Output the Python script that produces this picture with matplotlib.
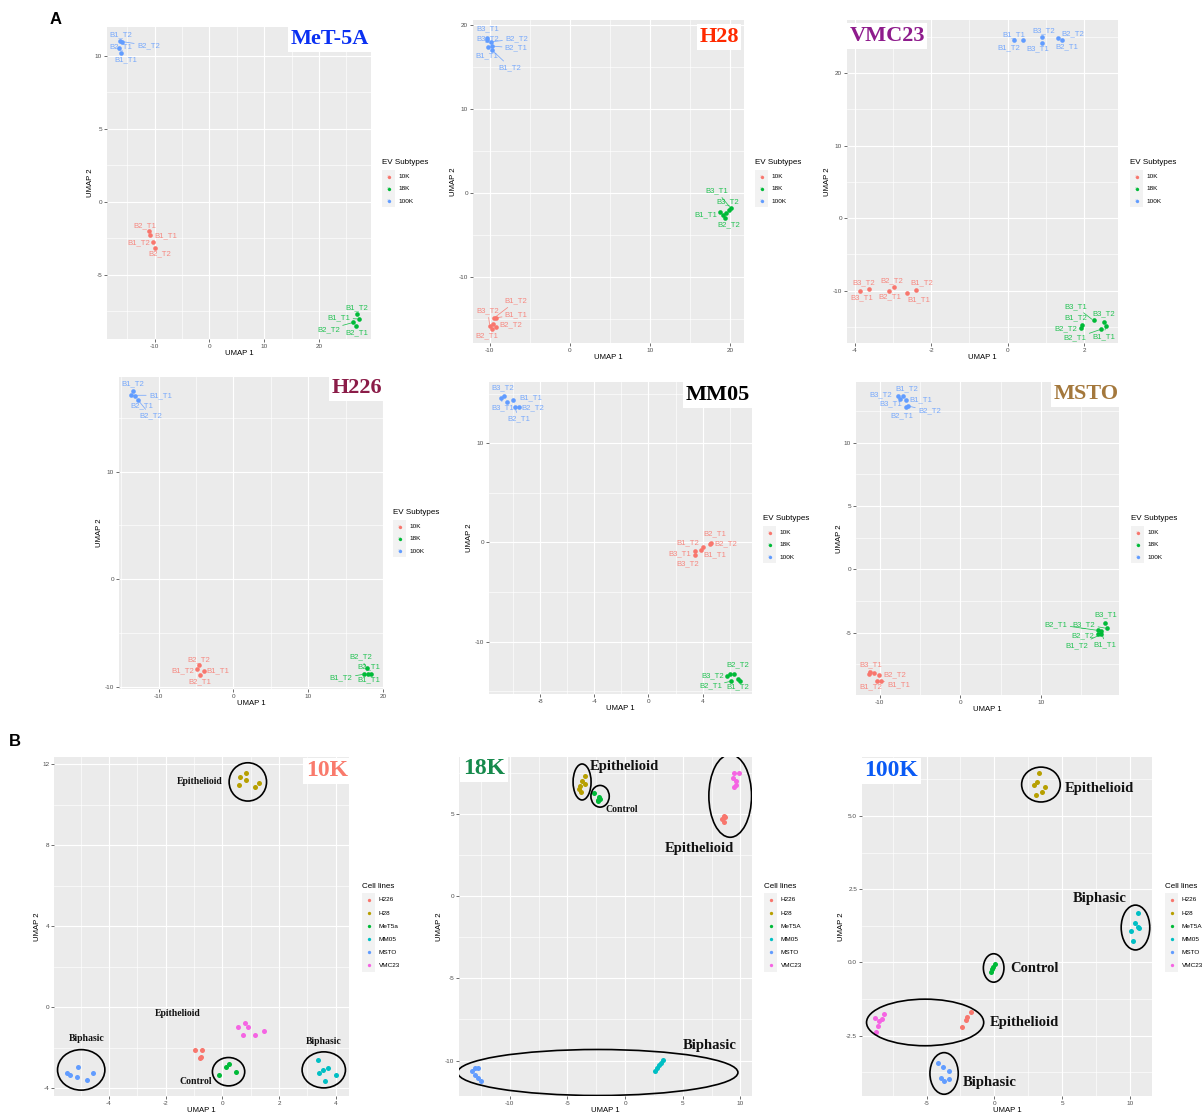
import matplotlib
matplotlib.use('Agg')
import matplotlib.pyplot as plt
from matplotlib.patches import Ellipse, Rectangle
from matplotlib.lines import Line2D
from matplotlib.ticker import MultipleLocator, FormatStrFormatter

plt.rcParams['font.family'] = ['Liberation Sans', 'DejaVu Sans']
plt.rcParams['axes.unicode_minus'] = False

W, H = 1203, 1115

# ---------------- A : EV subtypes within each cell line ----------------
SUBTYPES = ['10K', '18K', '100K']
SUB_COLORS = ['#F8766D', '#00BA38', '#619CFF']

MET_X = [-16.4, -15.9, -16.6, -16.2, -11.1, -10.8, -10.3, -9.9, 26.9, 27.3, 26.3, 26.7]
MET_Y = [11.0, 10.96, 10.5, 10.2, -2.03, -2.26, -2.76, -3.15, -7.67, -8.03, -8.26, -8.49]
MET_SUB = ['100K'] * 4 + ['10K'] * 4 + ['18K'] * 4
MET_LAB = ['B1_T2', 'B2_T2', 'B2_T1', 'B1_T1', 'B2_T1', 'B1_T1', 'B1_T2', 'B2_T2',
           'B1_T2', 'B1_T1', 'B2_T2', 'B2_T1']

H28_X = [-10.4, -10.3, -9.9, -9.7, -10.2, -9.7, -10.0, -9.7, -9.25, -9.2, -9.5, -9.6,
         18.7, 19.1, 19.5, 19.4, 19.9, 20.1]
H28_Y = [18.5, 18.2, 18.0, 17.5, 17.4, 17.0, -15.8, -16.15, -15.9, -14.8, -14.85, -15.5,
         -2.26, -2.58, -2.38, -2.97, -1.98, -1.78]
H28_SUB = ['100K'] * 6 + ['10K'] * 6 + ['18K'] * 6
H28_LAB = ['B3_T1', 'B3_T2', 'B2_T2', 'B2_T1', 'B1_T1', 'B1_T2',
           'B3_T2', 'B2_T1', 'B2_T2', 'B1_T1', 'B1_T2', '',
           'B1_T1', '', '', 'B2_T2', 'B3_T2', 'B3_T1']

VMC_X = [0.17, 0.39, 0.89, 0.89, 1.30, 1.41, -3.87, -3.62, -3.10, -2.97, -2.63, -2.40,
         1.95, 1.91, 2.24, 2.52, 2.56, 2.44]
VMC_Y = [24.5, 24.5, 24.9, 24.2, 24.8, 24.5, -10.06, -9.7, -10.06, -9.5, -10.25, -9.88,
         -14.7, -15.2, -14.1, -14.3, -14.9, -15.3]
VMC_SUB = ['100K'] * 6 + ['10K'] * 6 + ['18K'] * 6
VMC_LAB = ['B1_T2', 'B1_T1', 'B3_T2', 'B3_T1', 'B2_T2', 'B2_T1',
           'B3_T1', 'B3_T2', 'B2_T1', 'B2_T2', 'B1_T1', 'B1_T2',
           'B1_T2', 'B2_T2', 'B3_T1', 'B3_T2', 'B1_T1', 'B2_T1']

H226_X = [-13.4, -13.65, -13.2, -12.8, -4.6, -4.9, -4.0, -4.5, 17.8, 18.0, 17.5, 18.4]
H226_Y = [17.5, 17.1, 17.0, 16.7, -7.98, -8.32, -8.57, -8.88, -8.26, -8.82, -8.82, -8.82]
H226_SUB = ['100K'] * 4 + ['10K'] * 4 + ['18K'] * 4
H226_LAB = ['B1_T2', 'B1_T1', 'B2_T1', 'B2_T2', 'B2_T2', 'B1_T2', 'B1_T1', 'B2_T1',
            'B2_T2', 'B2_T1', 'B1_T2', 'B1_T1']

MM05_X = [-10.9, -10.7, -10.5, -10.0, -9.9, -9.6, 3.41, 3.41, 3.88, 4.0, 4.52, 4.64,
          5.81, 6.05, 6.35, 6.13, 6.6, 6.74]
MM05_Y = [14.6, 14.8, 14.2, 14.4, 13.7, 13.7, -0.85, -1.28, -0.78, -0.5, -0.17, -0.07,
          -13.5, -13.3, -13.3, -14.0, -13.8, -14.0]
MM05_SUB = ['100K'] * 6 + ['10K'] * 6 + ['18K'] * 6
MM05_LAB = ['B3_T1', 'B3_T2', '', 'B1_T1', 'B2_T1', 'B2_T2',
            'B3_T1', 'B3_T2', 'B1_T1', 'B1_T2', 'B2_T2', 'B2_T1',
            'B3_T2', '', 'B2_T2', 'B2_T1', '', 'B1_T2']

MSTO_X = [-7.8, -7.5, -7.1, -6.75, -6.8, -6.45, -11.4, -11.2, -10.7, -10.1, -10.4, -9.9,
          18.0, 18.2, 17.1, 17.5, 17.1, 17.5]
MSTO_Y = [13.7, 13.44, 13.68, 13.36, 12.8, 12.9, -8.29, -8.08, -8.21, -8.32, -8.8, -8.8,
          -4.26, -4.66, -4.82, -4.87, -5.13, -5.13]
MSTO_SUB = ['100K'] * 6 + ['10K'] * 6 + ['18K'] * 6
MSTO_LAB = ['B3_T2', 'B3_T1', 'B1_T2', 'B1_T1', 'B2_T1', 'B2_T2',
            'B3_T1', '', '', 'B2_T2', 'B1_T2', 'B1_T1',
            'B3_T1', 'B3_T2', 'B2_T1', 'B1_T1', 'B2_T2', 'B1_T2']

# label offsets (pixels) imitating ggrepel placement
MET_OFF = [(1, 6), (26, -4), (2, 2), (5, -7), (-4, 6), (16, -1), (-14, -1), (5, -6),
           (0, 6), (-20, 1), (-25, -7), (1, -7)]
H28_OFF = [(1, 9), (0, 1), (26, 3), (24, -2), (-1, -9), (18, -17),
           (-2, 15), (-5, -7), (15, 2), (20, 3), (22, 17), (0, 0),
           (-14, -2), (0, 0), (0, 0), (4, -7), (-1, 8), (-14, 17)]
VMC_OFF = [(-5, -7), (-9, 6), (2, 7), (-4, -6), (15, 4), (5, -6),
           (2, -7), (-5, 6), (1, -6), (-2, 6), (12, -7), (6, 7),
           (-7, 7), (-15, 0), (-18, 14), (0, 8), (-2, -10), (-26, -9)]
H226_OFF = [(0, 7), (29, 0), (7, -9), (13, -16), (0, 5), (-14, -2), (14, 1), (0, -7),
            (-6, 11), (1, 7), (-23, -4), (-2, -6)]
MM05_OFF = [(2, -10), (-1, 8), (0, 0), (17, 2), (4, -12), (14, -1),
            (-15, -3), (-7, -9), (14, -5), (-15, 5), (16, 0), (4, 9),
            (-14, 0), (0, 0), (4, 9), (-21, -5), (0, 0), (-2, -6)]
MSTO_OFF = [(-17, 1), (-9, -5), (4, 7), (15, 0), (-4, -8), (21, -5),
            (2, 10), (0, 0), (0, 0), (16, 0), (-6, -6), (18, -4),
            (0, 9), (-23, 4), (-42, 6), (4, -14), (-15, -1), (-24, -11)]

# ---------------- B : cell lines within each EV subtype ----------------
CELL_LINES = ['H226', 'H28', 'MeT5a', 'MM05', 'MSTO', 'VMC23']
CELL_COLORS = ['#F8766D', '#B79F00', '#00BA38', '#00BFC4', '#619CFF', '#F564E3']

K10_X = [[-0.98, -0.70, -0.76, -0.80],
         [0.61, 0.85, 0.85, 0.58, 1.14, 1.28],
         [-0.12, 0.14, 0.23, 0.49],
         [3.37, 3.55, 3.72, 3.41, 4.0, 3.62],
         [-5.10, -5.47, -5.39, -5.13, -4.57, -4.76],
         [0.54, 0.81, 0.92, 0.73, 1.16, 1.46]]
K10_Y = [[-2.09, -2.12, -2.43, -2.52],
         [11.38, 11.59, 11.2, 11.0, 10.9, 11.1],
         [-3.34, -2.95, -2.81, -3.18],
         [-2.58, -3.08, -2.98, -3.26, -3.35, -3.62],
         [-2.93, -3.26, -3.34, -3.42, -3.24, -3.59],
         [-0.97, -0.76, -0.97, -1.35, -1.35, -1.15]]

K18_X = [[8.53, 8.67, 8.39, 8.61],
         [-3.44, -3.70, -3.44, -3.87, -3.99, -3.79],
         [-2.66, -2.25, -2.37, -2.17, -2.32],
         [2.63, 2.80, 2.98, 3.09, 3.27],
         [-13.0, -12.78, -13.3, -13.0, -12.72, -12.49],
         [9.48, 9.83, 9.31, 9.63, 9.57, 9.45]]
K18_Y = [[4.87, 4.79, 4.67, 4.50],
         [7.30, 7.02, 6.81, 6.69, 6.55, 6.31],
         [6.29, 6.04, 5.88, 5.94, 5.78],
         [-10.64, -10.44, -10.28, -10.14, -9.98],
         [-10.44, -10.48, -10.64, -10.89, -11.05, -11.23],
         [7.50, 7.52, 7.22, 7.01, 6.79, 6.65]]

K100_X = [[-1.72, -2.03, -2.11, -2.40],
          [3.32, 3.17, 2.95, 3.74, 3.49, 3.07],
          [0.05, -0.07, -0.15, -0.24],
          [10.61, 10.37, 10.57, 10.69, 10.07, 10.24],
          [-4.13, -3.76, -3.32, -3.93, -3.68, -3.36],
          [-8.84, -8.18, -8.55, -8.30, -8.59, -8.72]]
K100_Y = [[-1.68, -1.85, -1.97, -2.19],
          [6.48, 6.16, 6.07, 5.98, 5.80, 5.73],
          [-0.07, -0.15, -0.24, -0.32],
          [1.70, 1.35, 1.21, 1.16, 1.07, 0.73],
          [-3.42, -3.56, -3.70, -3.93, -4.04, -3.98],
          [-1.89, -1.77, -2.0, -1.93, -2.16, -2.39]]

# hand-drawn rings (cx, cy, w, h) and notes (text, x, y, size) in data units
K10_RINGS = [(0.90, 11.13, 1.32, 1.89), (-4.98, -3.09, 1.67, 2.0),
             (0.22, -3.18, 1.14, 1.40), (3.58, -3.09, 1.53, 1.78)]
K10_NOTES = [('Epithelioid', -0.80, 11.13, 7), ('Epithelioid', -1.57, -0.30, 7),
             ('Biphasic', -4.80, -1.56, 7), ('Biphasic', 3.58, -1.71, 7),
             ('Control', -0.94, -3.67, 7)]
K18_RINGS = [(-3.73, 6.95, 1.56, 2.19), (-2.17, 6.08, 1.59, 1.32),
             (9.11, 6.10, 3.70, 5.03), (-2.37, -10.73, 24.3, 2.80)]
K18_NOTES = [('Epithelioid', -0.09, 7.91, 10.5), ('Control', -0.29, 5.27, 7),
             ('Epithelioid', 6.45, 2.90, 10.5), ('Biphasic', 7.31, -9.06, 10.5)]
K100_RINGS = [(3.44, 6.07, 2.85, 1.19), (10.42, 1.19, 2.11, 1.53),
              (-0.05, -0.19, 1.52, 0.97), (-5.11, -2.05, 8.65, 1.59),
              (-3.71, -3.79, 2.09, 1.42)]
K100_NOTES = [('Epithelioid', 7.74, 5.93, 10.5), ('Biphasic', 7.74, 2.18, 10.5),
              ('Control', 3.0, -0.2, 10.5), ('Epithelioid', 2.19, -2.06, 10.5),
              ('Biphasic', -0.32, -4.09, 10.5)]

fig = plt.figure(figsize=(W / 100, H / 100), dpi=100)
fig.patch.set_facecolor('white')


def fx(x):
    return x / W


def fy(y):
    return 1 - y / H


def add_ax(x0, y0, x1, y1):
    return fig.add_axes([fx(x0), fy(y1), (x1 - x0) / W, (y1 - y0) / H])


def style(ax, xlim, ylim, xs, ys, yfmt=None):
    ax.set_facecolor('#EBEBEB')
    ax.set_xlim(xlim)
    ax.set_ylim(ylim)
    ax.xaxis.set_major_locator(MultipleLocator(xs))
    ax.xaxis.set_minor_locator(MultipleLocator(xs / 2))
    ax.yaxis.set_major_locator(MultipleLocator(ys))
    ax.yaxis.set_minor_locator(MultipleLocator(ys / 2))
    if yfmt:
        ax.yaxis.set_major_formatter(FormatStrFormatter(yfmt))
    ax.grid(which='major', color='white', lw=0.8)
    ax.grid(which='minor', color='white', lw=0.45)
    ax.set_axisbelow(True)
    for s in ax.spines.values():
        s.set_visible(False)
    ax.tick_params(which='major', length=2.5, width=0.5, color='#333333',
                   labelsize=4.6, labelcolor='#4D4D4D', pad=1)
    ax.tick_params(which='minor', length=0)
    ax.set_xlabel('UMAP 1', fontsize=5.6, labelpad=1)
    ax.set_ylabel('UMAP 2', fontsize=5.6, labelpad=1)


def legend(x0, y0, title, labels, colors, step, glyph):
    fig.text(fx(x0), fy(y0), title, fontsize=5.8, ha='left', va='center')
    n = len(labels)
    top = y0 + 7.4
    fig.add_artist(Rectangle((fx(x0), fy(top + n * step)), 13 / W, n * step / H,
                             transform=fig.transFigure, fc='#F2F2F2', ec='none'))
    for k, (lab, c) in enumerate(zip(labels, colors)):
        yy = top + step * (k + 0.5)
        if glyph:
            fig.text(fx(x0 + 6.5), fy(yy - 0.5), 'a', fontsize=4, color=c,
                     alpha=0.45, ha='center', va='center')
        fig.add_artist(Line2D([fx(x0 + 6.5)], [fy(yy)], transform=fig.transFigure,
                              marker='o', ms=2.4, mec='none', mfc=c, ls='none'))
        fig.text(fx(x0 + 16.5), fy(yy), lab, fontsize=4.6, ha='left', va='center')


def title(cx, cy, txt, color, size):
    fig.text(fx(cx), fy(cy), txt, fontsize=size, fontweight='bold',
             family='Liberation Serif', color=color, ha='center', va='center',
             bbox=dict(fc='white', ec='none', boxstyle='square,pad=0.12'))


A_PANELS = [
    # box px, xlim, ylim, x step, y step, data, label offsets, title, legend anchor
    ((107, 27, 371, 339), (-18.7, 29.5), (-9.4, 11.96), 10, 5,
     (MET_X, MET_Y, MET_SUB, MET_LAB), MET_OFF,
     (330, 39, 'MeT-5A', '#0A30F2'), (382, 163)),
    ((473, 20, 744, 343), (-12.1, 21.75), (-17.8, 20.6), 10, 10,
     (H28_X, H28_Y, H28_SUB, H28_LAB), H28_OFF,
     (719, 37, 'H28', '#FF2A00'), (755, 163)),
    ((847, 20, 1118, 343), (-4.2, 2.88), (-17.2, 27.3), 2, 10,
     (VMC_X, VMC_Y, VMC_SUB, VMC_LAB), VMC_OFF,
     (887, 36, 'VMC23', '#8E1B8C'), (1130, 163)),
    ((119, 377, 383, 689), (-15.3, 20.0), (-10.2, 18.8), 10, 10,
     (H226_X, H226_Y, H226_SUB, H226_LAB), H226_OFF,
     (357, 388, 'H226', '#8B1C48'), (393, 513)),
    ((489, 382, 752, 694), (-11.8, 7.66), (-15.3, 16.2), 4, 10,
     (MM05_X, MM05_Y, MM05_SUB, MM05_LAB), MM05_OFF,
     (718, 395, 'MM05', '#000000'), (763, 519)),
    ((856, 382, 1119, 695), (-12.96, 19.7), (-9.92, 14.8), 10, 5,
     (MSTO_X, MSTO_Y, MSTO_SUB, MSTO_LAB), MSTO_OFF,
     (1086, 394, 'MSTO', '#A4783C'), (1131, 519)),
]

for box, xlim, ylim, xs, ys, (px, py, psub, plab), poff, ttl, leg in A_PANELS:
    ax = add_ax(*box)
    style(ax, xlim, ylim, xs, ys)
    for sub, col in zip(SUBTYPES, SUB_COLORS):
        idx = [i for i, s in enumerate(psub) if s == sub]
        ax.scatter([px[i] for i in idx], [py[i] for i in idx], s=11, color=col,
                   lw=0, zorder=3)
        for i in idx:
            if not plab[i]:
                continue
            dx, dy = poff[i]
            seg = abs(dx) > 17.5 or abs(dy) > 9.5
            ap = dict(arrowstyle='-', color=col, lw=0.55, alpha=0.85,
                      shrinkA=0, shrinkB=1.5) if seg else None
            ax.annotate(plab[i], (px[i], py[i]), xytext=(dx, dy),
                        textcoords='offset pixels', ha='center', va='center',
                        fontsize=5.6, color=col, alpha=0.85, arrowprops=ap, zorder=4)
    title(ttl[0], ttl[1], ttl[2], ttl[3], 16)
    legend(leg[0], leg[1], 'EV Subtypes', SUBTYPES, SUB_COLORS, 12.3, True)

B_PANELS = [
    ((54, 757, 349, 1096), (-5.94, 4.47), (-4.38, 12.36), 2, 4, None,
     K10_X, K10_Y, K10_RINGS, K10_NOTES, (327, 771, '10K', '#F97A6C'),
     (362, 886), 'MeT5a'),
    ((459, 757, 752, 1096), (-14.4, 11.0), (-12.16, 8.47), 5, 5, None,
     K18_X, K18_Y, K18_RINGS, K18_NOTES, (484, 769, '18K', '#168A4C'),
     (764, 886), 'MeT5A'),
    ((862, 757, 1152, 1096), (-9.77, 11.64), (-4.56, 7.01), 5, 2.5, '%.1f',
     K100_X, K100_Y, K100_RINGS, K100_NOTES, (891, 771, '100K', '#0A5AF5'),
     (1165, 886), 'MeT5A'),
]

for box, xlim, ylim, xs, ys, yfmt, bx, by, rings, notes, ttl, leg, met in B_PANELS:
    ax = add_ax(*box)
    style(ax, xlim, ylim, xs, ys, yfmt)
    for gx, gy, col in zip(bx, by, CELL_COLORS):
        ax.scatter(gx, gy, s=13, color=col, lw=0, zorder=3)
    for cx, cy, w, h in rings:
        ax.add_patch(Ellipse((cx, cy), w, h, fill=False, ec='black', lw=1.2, zorder=4))
    for txt, tx, ty, size in notes:
        ax.text(tx, ty, txt, fontsize=size, fontweight='bold', family='Liberation Serif',
                ha='center', va='center', color='#111111', zorder=5)
    title(ttl[0], ttl[1], ttl[2], ttl[3], 17)
    labels = [met if c.startswith('MeT') else c for c in CELL_LINES]
    legend(leg[0], leg[1], 'Cell lines', labels, CELL_COLORS, 13.07, False)

fig.text(fx(56), fy(19), 'A', fontsize=12, fontweight='bold', ha='center', va='center')
fig.text(fx(15), fy(742), 'B', fontsize=12, fontweight='bold', ha='center', va='center')

fig.savefig('out.png', dpi=100, facecolor='white')
